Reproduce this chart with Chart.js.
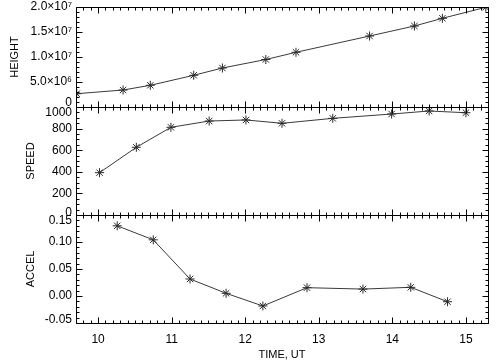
<!DOCTYPE html>
<html><head><meta charset="utf-8">
<script src="https://cdn.jsdelivr.net/npm/chart.js@4"></script>
<style>
html,body{margin:0;padding:0;background:#fff;}
#wrap{position:relative;width:504px;height:360px;overflow:hidden;background:#fff;}
canvas{position:absolute;left:0;top:0;}
</style></head><body>
<div id="wrap">
<canvas id="c1" width="504" height="360"></canvas>
<canvas id="c2" width="504" height="360"></canvas>
<canvas id="c3" width="504" height="360"></canvas>
</div>
<script>
// ---- data ----
const heightTime  = [9.71, 10.34, 10.71, 11.30, 11.69, 12.28, 12.69, 13.69, 14.30, 14.68, 15.27];
const heightValue = [2.66e6, 3.4e6, 4.34e6, 6.34e6, 7.8e6, 9.5e6, 1.094e7, 1.42e7, 1.62e7, 1.774e7, 1.994e7];

const speedTime  = [10.02, 10.52, 10.99, 11.51, 12.01, 12.50, 13.19, 13.99, 14.50, 15.00];
const speedValue = [392, 627, 812, 870, 880, 849, 895, 935, 963, 947];

const accelTime  = [10.26, 10.75, 11.25, 11.74, 12.24, 12.84, 13.60, 14.25, 14.75];
const accelValue = [0.130, 0.104, 0.0315, 0.005, -0.0185, 0.0154, 0.0128, 0.0161, -0.0106];

// ---- tick labels ----
const timeTicks   = [10, 11, 12, 13, 14, 15];
const timeLabels  = ['10', '11', '12', '13', '14', '15'];
const heightTicks  = [0, 5e6, 1e7, 1.5e7, 2e7];
const heightLabels = ['0', '5.0×10⁶', '1.0×10⁷', '1.5×10⁷', '2.0×10⁷'];
const speedTicks  = [0, 200, 400, 600, 800, 1000];
const speedLabels = ['0', '200', '400', '600', '800', '1000'];
const accelTicks  = [-0.05, 0, 0.05, 0.10, 0.15];
const accelLabels = ['-0.05', '0.00', '0.05', '0.10', '0.15'];

const FONT = "'Liberation Sans', Arial, Helvetica, sans-serif";
const X_MIN = 9.7, X_MAX = 15.3, X_MINOR = 0.1;

const framePlugin = {
  id: 'frame',
  afterDraw(chart, args, o) {
    const {ctx, chartArea: a, scales: {x, y}} = chart;
    const px = v => Math.round(v) + 0.5;
    const L = px(a.left), R = px(a.right), T = px(a.top), B = px(a.bottom);
    ctx.save();
    ctx.strokeStyle = '#000';
    ctx.lineWidth = 1;
    ctx.beginPath();
    ctx.rect(L, T, R - L, B - T);
    const yMin = y.min, yMax = y.max;
    const eps = 1e-9 * (yMax - yMin);
    for (let k = Math.ceil((yMin - eps) / o.yMinor); k * o.yMinor <= yMax + eps; k++) {
      const v = k * o.yMinor;
      const isMajor = o.yMajor.some(m => Math.abs(m - v) < eps * 10);
      const len = isMajor ? 6 : 3;
      const p = px(y.getPixelForValue(v));
      ctx.moveTo(L, p); ctx.lineTo(L + len, p);
      ctx.moveTo(R, p); ctx.lineTo(R - len, p);
    }
    for (let k = Math.ceil(X_MIN / X_MINOR - 1e-6); k * X_MINOR <= X_MAX + 1e-6; k++) {
      const v = k * X_MINOR;
      const isMajor = timeTicks.some(m => Math.abs(m - v) < 1e-6);
      const len = isMajor ? 6 : 3;
      const p = px(x.getPixelForValue(v));
      ctx.moveTo(p, T); ctx.lineTo(p, T + len);
      ctx.moveTo(p, B); ctx.lineTo(p, B - len);
    }
    ctx.stroke();
    ctx.restore();
  }
};

function makePanel(id, cfg) {
  const shifts = cfg.shifts;
  const datasets = [{
    data: cfg.xs.map((t, i) => ({x: t, y: cfg.ys[i]})),
    borderColor: '#3a3a3a',
    borderWidth: 1,
    pointStyle: 'star',
    pointRadius: 4.5,
    pointBorderColor: '#2a2a2a',
    pointBorderWidth: 1,
    pointBackgroundColor: 'rgba(0,0,0,0)',
    tension: 0,
    fill: false
  }];
  return new Chart(document.getElementById(id), {
    type: 'line',
    data: {datasets},
    plugins: [framePlugin],
    options: {
      responsive: false,
      animation: false,
      events: [],
      layout: {padding: {left: 0, right: 16, top: cfg.top, bottom: cfg.showX ? 0 : 360 - cfg.bottom}},
      plugins: {
        legend: {display: false},
        tooltip: {enabled: false},
        frame: {yMajor: cfg.yTicks, yMinor: cfg.yMinor}
      },
      scales: {
        x: {
          type: 'linear', min: X_MIN, max: X_MAX,
          display: cfg.showX,
          afterBuildTicks: s => { s.ticks = timeTicks.map(v => ({value: v})); },
          ticks: {
            callback: (v, i) => timeLabels[i],
            font: {family: FONT, size: 12},
            color: '#000', padding: 9, maxRotation: 0, autoSkip: false
          },
          grid: {display: false, drawTicks: false},
          border: {display: false},
          title: {display: true, text: 'TIME, UT', color: '#000',
                  font: {family: FONT, size: 11}, padding: {top: 0, bottom: -2}},
          afterFit: s => { s.height = cfg.showX ? 360 - cfg.bottom : 0; s.paddingLeft = 0; s.paddingRight = 0; }
        },
        y: {
          type: 'linear', min: cfg.yMin, max: cfg.yMax,
          afterBuildTicks: s => { s.ticks = cfg.yTicks.map(v => ({value: v})); },
          ticks: {
            callback: (v, i) => {
              const s = shifts[i] || 0, t = cfg.yLabels[i];
              if (!s) return t;
              return s > 0 ? ['', t] : [t, ''];
            },
            font: c => {
              const s = shifts[c.index] || 0;
              return {family: FONT, size: 12, lineHeight: s ? (Math.abs(s) * 2) + 'px' : 1.2};
            },
            color: '#000', padding: 4, autoSkip: false
          },
          grid: {display: false, drawTicks: false},
          border: {display: false},
          title: {display: true, text: cfg.title, color: '#000',
                  font: {family: FONT, size: 11}, padding: {top: cfg.titlePad, bottom: 0}},
          afterFit: s => { s.width = 76; s.paddingTop = 0; s.paddingBottom = 0; }
        }
      }
    }
  });
}

makePanel('c1', {
  xs: heightTime, ys: heightValue, top: 7, bottom: 107, showX: false,
  yMin: 0, yMax: 2e7, yTicks: heightTicks, yLabels: heightLabels, yMinor: 1e6,
  shifts: [-4, 0, 0, 0, 0], title: 'HEIGHT', titlePad: 8.4
});
makePanel('c2', {
  xs: speedTime, ys: speedValue, top: 107, bottom: 215, showX: false,
  yMin: 0, yMax: 1000, yTicks: speedTicks, yLabels: speedLabels, yMinor: 50,
  shifts: [-2, 0, 0, 0, 0, 6], title: 'SPEED', titlePad: 24.4
});
makePanel('c3', {
  xs: accelTime, ys: accelValue, top: 215, bottom: 323, showX: true,
  yMin: -0.05, yMax: 0.15, yTicks: accelTicks, yLabels: accelLabels, yMinor: 0.01,
  shifts: [-3, 0, 0, 0, 6], title: 'ACCEL', titlePad: 24.4
});
</script>
</body></html>
